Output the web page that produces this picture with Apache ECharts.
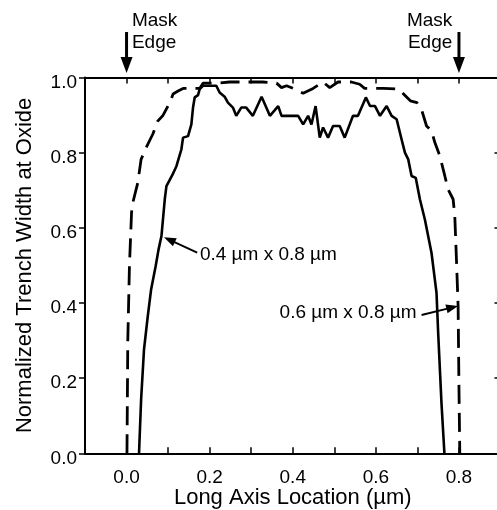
<!DOCTYPE html>
<html><head><meta charset="utf-8">
<script src="https://cdn.jsdelivr.net/npm/echarts@6/dist/echarts.min.js"></script>
<style>html,body{margin:0;padding:0;background:#fff;overflow:hidden}#c{width:497px;height:510px}</style>
</head><body><div id="c"></div>
<script>
// 0.4 um x 0.8 um (solid)
const solidX = [0.030,0.035,0.042,0.051,0.059,0.070,0.077,0.084,0.092,0.096,0.110,0.120,0.132,0.136,0.148,0.156,0.160,0.164,0.172,0.176,0.184,0.216,0.224,0.236,0.244,0.256,0.264,0.276,0.288,0.304,0.325,0.345,0.365,0.373,0.393,0.413,0.425,0.437,0.445,0.455,0.465,0.473,0.485,0.497,0.513,0.525,0.545,0.557,0.576,0.586,0.598,0.610,0.626,0.638,0.650,0.662,0.670,0.678,0.686,0.696,0.706,0.718,0.734,0.746,0.750,0.758,0.765];
const solidY = [0.000,0.142,0.276,0.364,0.435,0.498,0.542,0.578,0.676,0.711,0.740,0.764,0.809,0.840,0.844,0.875,0.920,0.947,0.953,0.969,0.978,0.978,0.960,0.949,0.933,0.920,0.898,0.920,0.920,0.898,0.949,0.898,0.924,0.898,0.898,0.898,0.875,0.898,0.875,0.924,0.840,0.867,0.840,0.871,0.871,0.840,0.898,0.898,0.947,0.924,0.924,0.898,0.924,0.898,0.889,0.835,0.800,0.782,0.738,0.733,0.676,0.622,0.533,0.427,0.320,0.133,0.000];
// 0.6 um x 0.8 um (dashed)
const dashX = [0.001,0.003,0.007,0.012,0.014,0.027,0.035,0.047,0.063,0.075,0.087,0.104,0.112,0.124,0.136,0.144,0.176,0.184,0.216,0.248,0.296,0.328,0.361,0.373,0.385,0.401,0.425,0.449,0.473,0.489,0.509,0.541,0.561,0.573,0.590,0.618,0.655,0.663,0.683,0.699,0.711,0.722,0.734,0.742,0.754,0.766,0.774,0.786,0.790,0.794,0.798,0.800,0.802];
const dashY = [0.000,0.300,0.500,0.640,0.662,0.720,0.782,0.813,0.849,0.884,0.898,0.933,0.956,0.964,0.971,0.971,0.971,0.985,0.985,0.988,0.988,0.988,0.985,0.973,0.978,0.971,0.958,0.971,0.988,0.973,0.988,0.988,0.982,0.971,0.971,0.971,0.969,0.960,0.938,0.933,0.911,0.871,0.858,0.827,0.791,0.738,0.702,0.676,0.631,0.515,0.391,0.178,0.000];
const xTickLabels = ['0.0','0.2','0.4','0.6','0.8'];
const yTickLabels = ['0.0','0.2','0.4','0.6','0.8','1.0'];
const labelSolid = '0.4 \u00b5m x 0.8 \u00b5m';
const labelDash = '0.6 \u00b5m x 0.8 \u00b5m';
// annotations in data units
const arrowSolid = [[0.170,0.534],[0.090,0.575]];
const textSolidPos = [0.1765,0.528];
const arrowDash = [[0.710,0.368],[0.798,0.392]];
const textDashPos = [0.698,0.373];
const maskX = [0.0, 0.8];
const maskArrowY = [1.121, 1.012];
const maskTextPos = [[0.013,1.150,1.092,'left'],[0.784,1.150,1.092,'right']];

const FONT = '"Liberation Sans", Arial, Helvetica, sans-serif';
const pairs = (xs, ys) => xs.map((x,i)=>[x,ys[i]]);
const fmtX = v => { const s=(Math.round(v*10)/10).toFixed(1); return xTickLabels.indexOf(s)>=0 ? s : ''; };
const fmtY = v => { const s=(Math.round(v*10)/10).toFixed(1); return yTickLabels.indexOf(s)>=0 ? s : ''; };

const chart = echarts.init(document.getElementById('c'), null, {renderer:'canvas', width:497, height:510});
const axisLine = {show:true, onZero:false, lineStyle:{color:'#000', width:2}};
const tickIn = {show:true, inside:true, length:6, lineStyle:{color:'#000', width:1.5}};
chart.setOption({
  animation:false,
  backgroundColor:'#fff',
  grid:{left:85, top:77.5, width:415.5, height:375.8, containLabel:false, outerBoundsMode:'none'},
  xAxis:[
    {type:'value', position:'bottom', min:-0.1, max:0.9, interval:0.1,
     axisLine:axisLine, axisTick:tickIn, splitLine:{show:false},
     axisLabel:{formatter:fmtX, color:'#000', fontSize:19, fontFamily:FONT, margin:15, showMinLabel:true, showMaxLabel:true},
     name:'Long Axis Location (\u00b5m)', nameLocation:'middle', nameGap:34, nameMoveOverlap:false,
     nameTextStyle:{color:'#000', fontSize:22, fontFamily:FONT}},
    {type:'value', position:'top', min:-0.1, max:0.9, interval:0.1,
     axisLine:axisLine, axisTick:tickIn, splitLine:{show:false}, axisLabel:{show:false}}
  ],
  yAxis:[
    {type:'value', position:'left', min:0, max:1, interval:0.2,
     axisLine:axisLine, axisTick:{show:true, inside:false, length:6, lineStyle:{color:'#000', width:1.5}},
     splitLine:{show:false},
     axisLabel:{formatter:fmtY, color:'#000', fontSize:19, fontFamily:FONT, margin:8, verticalAlign:'top', lineHeight:10},
     name:'Normalized Trench Width at Oxide', nameLocation:'middle', nameGap:49, nameMoveOverlap:false,
     nameTextStyle:{color:'#000', fontSize:22, fontFamily:FONT}},
    {type:'value', position:'right', min:0, max:1, interval:0.2,
     axisLine:axisLine, axisTick:tickIn, splitLine:{show:false}, axisLabel:{show:false}}
  ],
  series:[
    {type:'line', name:labelSolid, data:pairs(solidX,solidY), showSymbol:false, symbol:'none',
     lineStyle:{color:'#000', width:2.6}, clip:true},
    {type:'line', name:labelDash, data:pairs(dashX,dashY), showSymbol:false, symbol:'none',
     lineStyle:{color:'#000', width:2.8, type:[19,9]}, clip:true}
  ]
});

function px(p){ return chart.convertToPixel({xAxisIndex:0, yAxisIndex:0}, p); }
function arrow(a, b, headLen, headW, lw){
  const p1 = px(a), p2 = px(b);
  const dx = p2[0]-p1[0], dy = p2[1]-p1[1], L = Math.hypot(dx,dy);
  const ux = dx/L, uy = dy/L, nx = -uy, ny = ux;
  const bx = p2[0]-ux*headLen, by = p2[1]-uy*headLen;
  return [
    {type:'line', shape:{x1:p1[0], y1:p1[1], x2:bx+ux*1, y2:by+uy*1}, style:{stroke:'#000', lineWidth:lw}},
    {type:'polygon', shape:{points:[[p2[0],p2[1]],[bx+nx*headW/2,by+ny*headW/2],[bx-nx*headW/2,by-ny*headW/2]]}, style:{fill:'#000'}}
  ];
}
function text(str, p, align, size){
  const q = px(p);
  return {type:'text', x:q[0], y:q[1], style:{text:str, fill:'#000', font:size+'px '+FONT, align:align, verticalAlign:'middle'}};
}
let g = [];
g = g.concat(arrow(arrowSolid[0], arrowSolid[1], 12, 9, 2));
g = g.concat(arrow(arrowDash[0], arrowDash[1], 12, 9, 2));
g.push(text(labelSolid, textSolidPos, 'left', 19));
g.push(text(labelDash, textDashPos, 'right', 19));
maskX.forEach((mx,i)=>{
  g = g.concat(arrow([mx, maskArrowY[0]], [mx, maskArrowY[1]], 16, 12, 3));
  const t = maskTextPos[i];
  g.push(text('Mask', [t[0], t[1]], t[3], 19));
  g.push(text('Edge', [t[0], t[2]], t[3], 19));
});
chart.setOption({graphic:g});
</script>
</body></html>
